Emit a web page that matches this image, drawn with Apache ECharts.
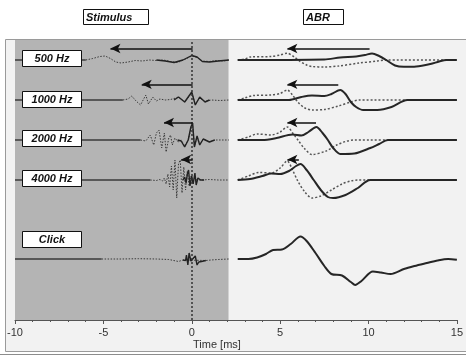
<!DOCTYPE html>
<html>
<head>
<meta charset="utf-8">
<script src="https://cdn.jsdelivr.net/npm/echarts@6/dist/echarts.min.js"></script>
<style>
    html, body { margin: 0; padding: 0; background: #fff; }
    #chart { width: 466px; height: 356px; }
</style>
</head>
<body>
<div id="chart"></div>
<script>
    // rows, top to bottom
    let rowNames = ['500 Hz', '1000 Hz', '2000 Hz', '4000 Hz', 'Click'];

    // stimulus traces [time ms, amplitude]
    let stimLeadEnd = [-6.0, -3.9, -2.9, -2.35, -5.1];
    let stim500Solid = [[-2.0, 0], [-1.5, -1], [-1.0, -2.5], [-0.5, 0], [0, 4.5], [0.3, 3], [0.6, -1.5], [1.0, -2], [1.5, -1], [2.1, 0]];
    let stim500Dotted = [[-6.0, 0], [-5.6, 1.5], [-5.2, 3.5], [-4.9, 4], [-4.6, 1.5], [-4.3, -2], [-4.0, -3], [-3.6, -2], [-3.2, -0.5], [-2.8, -1],
        [-2.4, 0], [-2.0, -0.5], [-1.6, 0], [-1.2, -1.5], [-0.8, -2.5], [-0.4, 0.5], [0, 4], [0.3, 2.5], [0.6, -1], [1.0, -1.5], [1.4, -0.5], [1.8, -1], [2.1, 0]];
    let stim1000Solid = [[-1.0, 0], [-0.75, 3], [-0.4, -2], [0, 8], [0.2, -5], [0.45, 3], [0.75, -2], [1.0, 0]];
    let stim1000Dotted = [[-3.9, 0], [-3.6, 1], [-3.4, 4], [-3.15, -1], [-2.9, -5], [-2.75, 0], [-2.6, 5], [-2.45, -4], [-2.2, 3], [-2.0, -1],
        [-1.8, 1], [-1.5, 0], [-1.2, 0.5], [-0.9, 2], [-0.75, 3], [-0.4, -2], [0, 7], [0.2, -4], [0.45, 2], [0.75, -1.5], [1.1, 0], [1.6, -0.5], [2.1, 0]];
    let stim2000Solid = [[-0.8, 0], [-0.6, -1], [-0.4, -7], [-0.2, 0], [-0.05, 13], [0.05, 17], [0.15, -7], [0.3, 4], [0.45, -5], [0.65, 1], [1.0, -2], [1.3, 0]];
    let stim2000Dotted = [[-2.9, 0], [-2.6, -1], [-2.35, 5], [-2.15, -5], [-2.0, 7], [-1.85, 10], [-1.7, -8], [-1.55, 7], [-1.45, -12], [-1.3, 2],
        [-1.2, 5], [-1.1, -5], [-0.95, 2], [-0.77, -2], [-0.6, 0], [-0.4, -6], [-0.2, 0], [-0.05, 11], [0.05, 14], [0.15, -6], [0.3, 3], [0.45, -4],
        [0.65, 1], [1.0, -2], [1.3, 0], [2.1, 0]];
    let stim4000Solid = [[-0.5, 0], [-0.4, 3], [-0.32, -3], [-0.25, 6], [-0.18, 10], [-0.1, -6], [0.0, 4], [0.08, -4], [0.18, 7], [0.25, -5], [0.35, 2], [0.5, 0], [0.7, 0]];
    let stim4000Dotted = [[-2.35, 0], [-2.0, -0.5], [-1.8, 0.5], [-1.65, -1], [-1.55, 2], [-1.45, -4], [-1.35, 6], [-1.25, -7], [-1.15, 14], [-1.05, -10],
        [-0.95, 20], [-0.85, -18], [-0.75, 16], [-0.65, 20], [-0.55, -13], [-0.45, 13], [-0.35, -10], [-0.25, 9], [-0.15, -6], [-0.05, 4],
        [0.05, -3], [0.15, 2], [0.3, 0], [0.6, 0], [1.0, 0.5], [1.5, 0], [2.1, 0]];
    let stimClickSolid = [[-0.5, -1], [-0.35, -1.5], [-0.3, 4], [-0.22, -6], [-0.15, 6], [-0.05, -2], [0.05, 0], [0.2, 3], [0.3, -6], [0.4, -3], [0.55, -2.5], [0.8, -1.5]];
    let stimClickDotted = [[-5.1, 0], [-4.0, 0], [-3.0, 0.3], [-2.0, 0], [-1.3, -0.5], [-0.75, -2.5], [-0.5, -1], [0.8, -1.5], [1.1, -1], [1.5, -0.5], [2.1, 0]];

    // ABR traces [time ms, amplitude]
    let abr500Solid = [[2.6, 0], [7.5, 0.5], [8.4, 2.5], [9.3, 3.5], [9.8, 5], [10.2, 6.5], [10.6, 4], [11.0, 0], [11.5, -5.5], [12.0, -6.8], [12.7, -6.5], [13.5, -4], [14.0, -1.5], [14.4, 0], [15, 0]];
    let abr500Dotted = [[2.6, 0], [3.0, 1], [3.3, 3], [4.5, 3.5], [5.0, 5], [5.4, 6.8], [5.8, 3], [6.1, -1], [6.5, -5], [6.8, -6.5], [7.5, -7], [8.3, -6], [9.5, -3], [10.5, -1], [11.0, 0], [15, 0]];
    let abr1000Solid = [[2.6, 0], [5.5, 0], [6.2, 3], [6.8, 4.5], [7.5, 4], [7.9, 6], [8.4, 10], [8.7, 6], [9.0, -2], [9.3, -7], [9.7, -10], [10.5, -10], [11.3, -7], [12.2, 0], [15, 0]];
    let abr1000Dotted = [[2.6, 0], [3.0, 2], [3.5, 4.5], [4.5, 5], [5.0, 6.5], [5.4, 10], [5.7, 5], [6.0, -2], [6.4, -8], [6.8, -10], [7.5, -9.5], [8.3, -6], [9.0, -2], [9.5, 0], [15, 0]];
    let abr2000Solid = [[2.6, 0], [4.0, 0], [4.8, 2], [5.7, 5.5], [6.2, 4.5], [6.6, 8], [7.05, 13], [7.4, 7], [7.7, 0], [8.0, -8], [8.4, -14], [9.2, -13.5], [10.1, -8], [10.6, -4], [11.1, 0], [15, 0]];
    let abr2000Dotted = [[2.6, 0], [3.2, 3], [3.7, 6], [4.5, 5], [5.0, 8], [5.4, 13], [5.75, 6], [6.05, -1], [6.4, -9], [6.8, -14.5], [7.6, -11], [8.2, -5], [8.7, -1.5], [9.2, 0], [15, 0]];
    let abr4000Solid = [[2.6, 0], [3.3, 1], [4.0, 4], [4.5, 6.5], [5.0, 6], [5.5, 9], [5.9, 14], [6.15, 16], [6.5, 10], [6.9, 0], [7.3, -10], [7.7, -17], [8.0, -18], [8.7, -15], [9.4, -8], [10.1, 0], [15, 0]];
    let abr4000Dotted = [[2.6, 0], [3.2, 4], [3.8, 7.5], [4.5, 7], [5.0, 12], [5.4, 19], [5.7, 10], [6.0, -1], [6.4, -12], [6.8, -18], [7.3, -16], [7.9, -10], [8.5, -4], [9.0, -1], [9.4, 0], [15, 0]];
    let abrClick = [[2.6, 0], [3.2, 0], [3.7, 1.5], [4.2, 5], [4.6, 9], [5.1, 9.5], [5.6, 15], [6.15, 22.5], [6.5, 18], [7.0, 6], [7.5, -7], [7.9, -15],
        [8.5, -16.5], [9.0, -23], [9.25, -26], [9.6, -22], [10.25, -12.5], [10.7, -13.5], [11.25, -15], [12.0, -10], [12.6, -7], [13.3, -4], [13.9, -1.5], [14.5, 0], [15, -0.8]];

    // latency shift arrows (ms)
    let latencyShift = [4.65, 2.88, 1.62, 0.65];
    let abrArrowTip = 5.41;

    // layout: y axis is 0..280 (one unit per pixel), baseline of each row
    let rowBase = [260, 220, 180, 140, 61];
    let arrowLift = [11.5, 15.7, 17.5, 20.5];
    let boxTop = [50, 91, 130, 170, 231];

    let stimSolid = [stim500Solid, stim1000Solid, stim2000Solid, stim4000Solid, stimClickSolid];
    let stimDotted = [stim500Dotted, stim1000Dotted, stim2000Dotted, stim4000Dotted, stimClickDotted];
    let abrSolid = [abr500Solid, abr1000Solid, abr2000Solid, abr4000Solid, abrClick];
    let abrDotted = [abr500Dotted, abr1000Dotted, abr2000Dotted, abr4000Dotted];

    let lift = (arr, base) => arr.map((p) => [p[0], p[1] + base]);

    let series = [];
    let line = (data, color, width, type, smooth) => ({
        type: 'line', data: data, symbol: 'none', silent: true, smooth: smooth,
        lineStyle: {color: color, width: width, type: type}, z: 3
    });

    for (let i = 0; i < rowNames.length; i++) {
        let b = rowBase[i];
        series.push(line([[-10, b], [stimLeadEnd[i], b]], '#3a3a3a', 1.5, 'solid', false));
        series.push(line(lift(stimDotted[i], b), '#3a3a3a', 1, [1.5, 1.5], false));
        series.push(line(lift(stimSolid[i], b), '#222', 1.4, 'solid', false));
        if (abrDotted[i]) {
            series.push(line(lift(abrDotted[i], b), '#555', 1.5, [2, 2], 0.3));
        }
        series.push(line(lift(abrSolid[i], b), '#262626', 2, 'solid', 0.3));
    }

    let arrows = [];
    for (let i = 0; i < latencyShift.length; i++) {
        let y = rowBase[i] + arrowLift[i];
        arrows.push([{coord: [abrArrowTip, y]}, {coord: [abrArrowTip + latencyShift[i], y]}]);
        arrows.push([{coord: [0.05 - latencyShift[i], y]}, {coord: [0.05, y]}]);
    }

    // background panel, zero line and arrows
    series.push({
        type: 'line', data: [], silent: true,
        markArea: {
            silent: true,
            itemStyle: {color: '#b4b4b4'},
            data: [[{coord: [-10, 0]}, {coord: [2.08, 280]}]]
        },
        markLine: {
            silent: true, animation: false,
            symbol: ['none', 'none'],
            label: {show: false},
            lineStyle: {color: '#333', width: 1.5, type: [2, 2]},
            data: [[{coord: [0, 0]}, {coord: [0, 280]}]]
        },
        z: 2
    });
    series.push({
        type: 'line', data: [], silent: true,
        markLine: {
            silent: true, animation: false,
            symbol: ['arrow', 'none'],
            symbolSize: [7, 10],
            label: {show: false},
            lineStyle: {color: '#111', width: 1.5, type: 'solid'},
            data: arrows
        },
        z: 4
    });

    let graphics = [
        {type: 'rect', z: -10, shape: {x: 5.5, y: 39.5, width: 470, height: 312},
            style: {fill: '#f2f2f2', stroke: '#9a9a9a', lineWidth: 1}},
        {type: 'line', z: -10, shape: {x1: 0, y1: 354.5, x2: 466, y2: 354.5},
            style: {stroke: '#8c8c8c', lineWidth: 1}},
        {type: 'text', z: 10, left: 193, top: 339,
            style: {text: 'Time [ms]', font: '11px "Liberation Sans", Arial', fill: '#333'}}
    ];
    let box = (x, y, w, h, text, align) => [
        {type: 'rect', z: 50, shape: {x: x + 0.5, y: y + 0.5, width: w, height: h},
            style: {fill: '#fff', stroke: '#111', lineWidth: 1}},
        {type: 'text', z: 51, x: align === 'left' ? x + 3 : x + w / 2 + 0.5, y: y + h / 2 + 1,
            style: {text: text, font: 'italic bold 11px "Liberation Sans", Arial', fill: '#111',
                align: align === 'left' ? 'left' : 'center', verticalAlign: 'middle'}}
    ];
    graphics.push(...box(83, 9, 65, 15, 'Stimulus', 'left'));
    graphics.push(...box(303, 9, 40, 15, 'ABR', 'left'));
    for (let i = 0; i < rowNames.length; i++) {
        graphics.push(...box(22, boxTop[i], 59, 16, rowNames[i], 'center'));
    }

    let myChart = echarts.init(document.getElementById('chart'));
    let option = {
        animation: false,
        backgroundColor: '#fff',
        grid: {left: 15, right: 4, top: 40, bottom: 36},
        xAxis: {
            type: 'value', min: -10, max: 15, interval: 5,
            axisLine: {lineStyle: {color: '#555', width: 1}},
            axisTick: {show: true, length: 4, lineStyle: {color: '#555'}},
            minorTick: {show: true, splitNumber: 5, length: 2, lineStyle: {color: '#555'}},
            splitLine: {show: false},
            axisLabel: {color: '#333', fontSize: 11, fontFamily: '"Liberation Sans", Arial', margin: 7}
        },
        yAxis: {type: 'value', min: 0, max: 280, show: false},
        graphic: graphics,
        series: series
    };
    myChart.setOption(option);
</script>
</body>
</html>
